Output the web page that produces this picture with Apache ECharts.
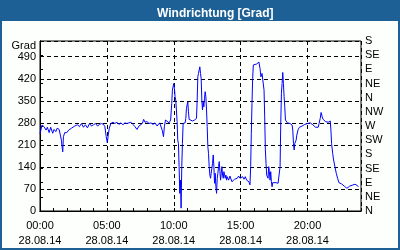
<!DOCTYPE html>
<html>
<head>
<meta charset="utf-8">
<script src="https://cdn.jsdelivr.net/npm/echarts@6/dist/echarts.min.js"></script>
<style>
html,body{margin:0;padding:0;width:400px;height:250px;overflow:hidden;}
#frame{position:absolute;left:0;top:0;width:400px;height:250px;background:#1c6096;}
#inner{position:absolute;left:2px;top:21px;width:396px;height:227px;background:#fdfffd;}
#chart{position:absolute;left:0;top:0;width:400px;height:250px;}
</style>
</head>
<body>
<div id="frame"></div>
<div id="inner"></div>
<div id="chart"></div>
<script>
const chartTitle = 'Windrichtung [Grad]';
const unitLabel = 'Grad';
const dateLabel = '28.08.14';
const directionLabels = ['N','NE','E','SE','S','SW','W','NW','N','NE','E','SE','S'];

const minuteOfDay = [
  0,5,9,18,27,33,41,48,57,63,71,77,86,91,96,99,102,105,111,120,129,141,156,168,177,186,195,204,213,222,231,240,249,258,267,276,285,291,
  297,302,306,311,318,327,336,345,354,363,372,381,390,399,408,417,426,435,444,450,459,465,471,480,489,498,507,516,525,531,537,543,549,554,558,563,570,579,
  582,586,591,594,597,600,603,606,609,612,615,618,621,624,627,630,633,636,639,642,645,651,654,657,660,663,666,669,675,684,693,699,702,705,708,711,714,717,720,723,726,729,732,735,738,741,744,747,750,753,756,759,762,765,768,771,774,777,780,783,786,789,792,795,798,801,804,807,810,813,816,819,822,825,828,831,834,837,840,846,852,
  861,867,873,879,885,891,897,903,909,915,921,927,933,937,942,945,948,951,954,957,960,972,978,982,987,991,996,1000,1005,1008,1011,1014,1017,1020,1023,1026,1029,1032,1035,1038,1041,1044,1050,1059,1068,1074,1077,1080,1083,1086,1089,1092,1095,1098,1101,1104,1110,1116,1122,1125,1131,1134,1137,1140,1143,1146,1149,
  1152,1158,1164,1170,1176,1182,1188,1194,1200,1206,1212,1218,1224,1230,1236,1242,1248,1252,1257,1261,1266,1270,1275,1281,1293,1299,1302,1305,1308,1313,1317,1323,1329,1335,1341,1347,1353,1359,1365,1371,1377,1383,1389,1395,1401,1407,1413,1419,1425,1428
];
const degrees = [
  245,249,273,268,257,266,249,266,247,259,252,263,259,255,225,204,188,236,249,249,257,263,270,274,268,278,266,274,264,278,270,274,278,270,275,278,275,268,
  236,217,241,263,278,282,278,282,275,280,274,280,278,280,282,275,268,259,270,266,278,291,282,284,278,280,275,280,270,266,280,280,255,236,268,289,284,280,
  276,289,342,384,379,405,390,363,352,321,284,225,215,141,56,98,9,141,215,278,284,280,294,326,337,347,315,291,289,286,289,287,294,352,426,437,448,458,437,421,352,321,347,331,358,379,363,321,268,204,183,141,114,104,120,125,151,178,141,88,120,77,56,104,120,141,157,125,98,120,141,114,104,125,114,104,114,98,109,98,111,
  93,98,101,98,104,111,104,101,109,101,109,98,104,93,83,141,247,342,421,464,467,467,469,473,453,426,437,432,384,299,194,151,114,120,104,141,125,98,125,93,77,90,88,90,88,88,141,278,374,405,440,405,363,331,289,284,280,278,278,273,273,257,215,194,215,210,225,
  241,259,266,266,270,273,275,274,278,278,280,278,274,270,266,264,266,278,294,313,299,291,287,284,282,280,286,257,215,183,162,141,120,104,90,86,86,84,79,75,72,69,79,75,82,84,85,84,80,77
];

const seriesData = minuteOfDay.map((m, i) => [m, degrees[i]]);
const font = 'Liberation Sans, Arial, sans-serif';

const chart = echarts.init(document.getElementById('chart'), null, {renderer: 'canvas'});
chart.setOption({
  backgroundColor: 'transparent',
  animation: false,
  title: {
    text: chartTitle,
    left: 152, top: 3,
    textStyle: {color: '#ffffff', fontFamily: font, fontWeight: 'bold', fontSize: 12}
  },
  graphic: [{
    type: 'text', x: 36, y: 46,
    style: {text: unitLabel, fill: '#000', font: '11px ' + font, textAlign: 'right', textVerticalAlign: 'middle'}
  }],
  grid: {left: 40, right: 39, top: 41, bottom: 39, show: true, borderColor: '#000', borderWidth: 1, backgroundColor: 'transparent'},
  xAxis: [{
    type: 'value', min: 0, max: 1440, interval: 300, position: 'bottom',
    axisLine: {show: true, lineStyle: {color: '#000', width: 1}},
    axisTick: {show: false},
    splitLine: {show: true, lineStyle: {color: '#000', type: [4, 3], width: 1}},
    axisLabel: {
      showMaxLabel: false, margin: 7, lineHeight: 15,
      color: '#000', fontFamily: font, fontSize: 11,
      formatter: v => String(Math.round(v / 60)).padStart(2, '0') + ':00\n' + dateLabel
    }
  }, {
    type: 'value', min: 0, max: 1440, interval: 60, position: 'bottom',
    axisLine: {show: true, lineStyle: {color: '#000', width: 1}},
    axisTick: {show: true, inside: true, length: 3, lineStyle: {color: '#000'}},
    splitLine: {show: false},
    axisLabel: {show: false}
  }],
  yAxis: [{
    type: 'value', min: 0, max: 540, interval: 70, position: 'left',
    axisLine: {show: true, lineStyle: {color: '#000', width: 1}},
    axisTick: {show: false},
    splitLine: {show: true, lineStyle: {color: '#000', type: [4, 3], width: 1}},
    axisLabel: {showMaxLabel: false, margin: 4, color: '#000', fontFamily: font, fontSize: 11}
  }, {
    type: 'value', min: 0, max: 540, interval: 45, position: 'right',
    axisLine: {show: true, lineStyle: {color: '#000', width: 1}},
    axisTick: {show: true, inside: false, length: 3, lineStyle: {color: '#000'}},
    splitLine: {show: false},
    axisLabel: {
      margin: 4, color: '#000', fontFamily: font, fontSize: 11,
      formatter: v => directionLabels[Math.round(v / 45)] || ''
    }
  }],
  series: [{
    type: 'line', xAxisIndex: 0, yAxisIndex: 0,
    data: seriesData,
    showSymbol: false, symbol: 'none',
    lineStyle: {color: '#0000ff', width: 1},
    z: 5
  }]
});
</script>
</body>
</html>
